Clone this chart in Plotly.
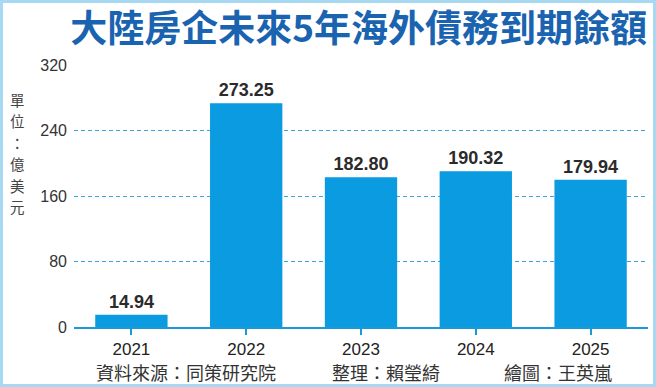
import plotly.graph_objects as go

years = ["2021", "2022", "2023", "2024", "2025"]
values = [14.94, 273.25, 182.80, 190.32, 179.94]
value_labels = ["14.94", "273.25", "182.80", "190.32", "179.94"]
y_ticks = [0, 80, 160, 240, 320]

title_text = "大陸房企未來5年海外債務到期餘額"
unit_text = "單位：億美元"
footer = [("資料來源：同策研究院", 186), ("整理：賴瑩綺", 386), ("繪圖：王英嵐", 558)]

W, H = 656, 387
L, R, T, B = 74, 8, 65, 60
PW, PH = W - L - R, H - T - B

def px_x(p):
    return (p - L) / PW

def px_y(p):
    return (H - B - p) / PH

CJK = "Noto Sans CJK TC"
NUM = "Liberation Sans, Arial"

fig = go.Figure()
fig.add_trace(go.Bar(
    x=years, y=values, text=value_labels, textposition="outside",
    textfont=dict(family=NUM, size=18, color="#2b2b2b", weight="bold"),
    marker=dict(color="#0a9be0", line=dict(width=0)),
    cliponaxis=False, hoverinfo="skip",
))

fig.update_layout(
    width=W, height=H,
    margin=dict(l=L, r=R, t=T, b=B),
    paper_bgcolor="white", plot_bgcolor="white",
    bargap=0.37, showlegend=False,
    title=dict(text=title_text, x=647 / W, xanchor="right", y=1 - 29 / H, yanchor="middle",
               font=dict(family=CJK, size=37, color="#1a63b0", weight="bold")),
    xaxis=dict(
        type="category", range=[-0.5, 4.5], showgrid=False,
        showline=True, linecolor="#1a9ad9", linewidth=2,
        ticks="outside", ticklen=6, tickwidth=2, tickcolor="#1a9ad9",
        tickfont=dict(family=NUM, size=17, color="#222222"),
    ),
    yaxis=dict(
        range=[0, 320], tickvals=y_ticks, ticktext=[str(v) for v in y_ticks],
        showgrid=True, gridcolor="#3aa6df", gridwidth=1, griddash="4px,3px",
        zeroline=False, showline=False, ticks="", ticklabelstandoff=6,
        tickfont=dict(family=NUM, size=16, color="#333333"),
    ),
    shapes=[dict(type="rect", xref="paper", yref="paper",
                 x0=px_x(1.5), x1=px_x(W - 1.5), y0=px_y(H - 1.5), y1=px_y(1.5),
                 line=dict(color="#a7d9f2", width=3), fillcolor="rgba(0,0,0,0)", layer="above")],
)

for i, ch in enumerate(unit_text):
    fig.add_annotation(text=ch, xref="paper", yref="paper", x=px_x(17), y=px_y(99 + 21.5 * i),
                       xanchor="center", yanchor="middle", showarrow=False,
                       font=dict(family=CJK, size=14.5, color="#444444"))

for txt, cx in footer:
    fig.add_annotation(text=txt, xref="paper", yref="paper", x=px_x(cx), y=px_y(372),
                       xanchor="center", yanchor="middle", showarrow=False,
                       font=dict(family=CJK, size=18, color="#333333"))

fig.write_html("out.html", config={"displayModeBar": False},
               post_script="document.body.style.margin='0';document.body.style.overflow='hidden';")
